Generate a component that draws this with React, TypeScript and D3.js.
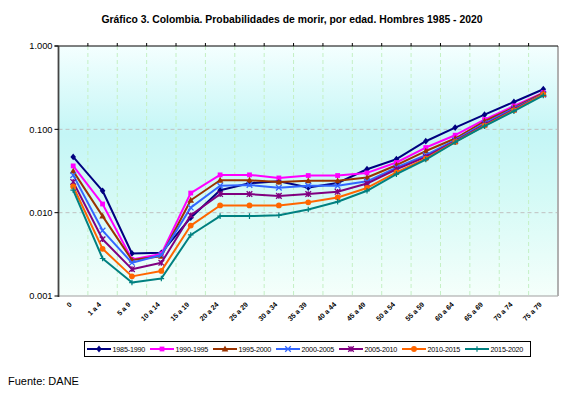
import { useEffect, useRef } from "react";
import * as d3 from "d3";

// Age groups (x categories)
const AGES = [
  "0", "1 a 4", "5 a 9", "10 a 14", "15 a 19", "20 a 24", "25 a 29", "30 a 34",
  "35 a 39", "40 a 44", "45 a 49", "50 a 54", "55 a 59", "60 a 64", "65 a 69",
  "70 a 74", "75 a 79",
];

const Y_TICKS = [0.001, 0.01, 0.1, 1];

// Probability of dying, per period
const P1985 = [0.0467, 0.0183, 0.00324, 0.0033, 0.0087, 0.0186, 0.0225, 0.0238, 0.0200, 0.0227, 0.0332, 0.0438, 0.072, 0.105, 0.150, 0.213, 0.303];
const P1990 = [0.0364, 0.0127, 0.00275, 0.0032, 0.0172, 0.0284, 0.0284, 0.0261, 0.0279, 0.0279, 0.0300, 0.0400, 0.0605, 0.085, 0.131, 0.191, 0.276];
const P1995 = [0.0315, 0.0091, 0.0027, 0.0030, 0.0141, 0.0245, 0.0245, 0.0233, 0.0241, 0.0241, 0.0264, 0.0371, 0.0549, 0.0776, 0.125, 0.183, 0.271];
const P2000 = [0.0282, 0.0061, 0.0025, 0.0031, 0.0115, 0.0210, 0.0215, 0.0199, 0.0210, 0.0210, 0.0238, 0.0348, 0.0490, 0.074, 0.118, 0.178, 0.265];
const P2005 = [0.0234, 0.0048, 0.0021, 0.0025, 0.0093, 0.0167, 0.0167, 0.0159, 0.0167, 0.0178, 0.0224, 0.0332, 0.0467, 0.072, 0.114, 0.173, 0.262];
const P2010 = [0.0206, 0.00368, 0.00172, 0.0020, 0.0070, 0.0122, 0.0122, 0.0122, 0.0133, 0.0152, 0.0198, 0.0304, 0.0446, 0.0706, 0.111, 0.169, 0.262];
const P2015 = [0.0186, 0.00282, 0.00145, 0.00162, 0.0054, 0.0091, 0.0091, 0.0093, 0.0109, 0.0135, 0.0183, 0.0290, 0.0434, 0.070, 0.109, 0.165, 0.255];

const SERIES = [
  { name: "1985-1990", values: P1985, color: "#000080", marker: "diamond" },
  { name: "1990-1995", values: P1990, color: "#ff00ff", marker: "square" },
  { name: "1995-2000", values: P1995, color: "#993300", marker: "triangle" },
  { name: "2000-2005", values: P2000, color: "#3366ff", marker: "x" },
  { name: "2005-2010", values: P2005, color: "#800080", marker: "star" },
  { name: "2010-2015", values: P2010, color: "#ff6600", marker: "circle" },
  { name: "2015-2020", values: P2015, color: "#008080", marker: "plus" },
];

const W = 584;
const H = 395;
const PLOT = { left: 58.5, right: 558, top: 46, bottom: 296 };
const FONT = "'Liberation Sans', Arial, sans-serif";

function drawMarker(
  g: d3.Selection<SVGGElement, unknown, null, undefined>,
  kind: string, x: number, y: number, color: string,
) {
  const s = 2.8;
  if (kind === "diamond") {
    g.append("path").attr("d", `M${x},${y - s - 0.6}L${x + s},${y}L${x},${y + s + 0.6}L${x - s},${y}Z`).attr("fill", color);
  } else if (kind === "square") {
    g.append("rect").attr("x", x - 2.4).attr("y", y - 2.4).attr("width", 4.8).attr("height", 4.8).attr("fill", color);
  } else if (kind === "triangle") {
    g.append("path").attr("d", `M${x},${y - 3.4}L${x + 3.3},${y + 2.4}L${x - 3.3},${y + 2.4}Z`).attr("fill", color);
  } else if (kind === "circle") {
    g.append("circle").attr("cx", x).attr("cy", y).attr("r", 2.9).attr("fill", color);
  } else if (kind === "x") {
    g.append("path").attr("d", `M${x - s},${y - s}L${x + s},${y + s}M${x - s},${y + s}L${x + s},${y - s}`)
      .attr("stroke", color).attr("stroke-width", 1.3);
  } else if (kind === "star") {
    g.append("path").attr("d", `M${x - s},${y - s}L${x + s},${y + s}M${x - s},${y + s}L${x + s},${y - s}M${x},${y - s}L${x},${y + s}`)
      .attr("stroke", color).attr("stroke-width", 1.3);
  } else if (kind === "plus") {
    g.append("path").attr("d", `M${x - s},${y}L${x + s},${y}M${x},${y - s}L${x},${y + s}`)
      .attr("stroke", color).attr("stroke-width", 1.2);
  }
}

export default function App() {
  const svgRef = useRef<SVGSVGElement>(null);

  useEffect(() => {
    const svg = d3.select(svgRef.current!);
    svg.selectAll("*").remove();

    const x = d3.scaleBand<string>().domain(AGES).range([PLOT.left, PLOT.right]);
    const y = d3.scaleLog().domain([0.001, 1]).range([PLOT.bottom, PLOT.top]);
    const cx = (a: string) => (x(a) ?? 0) + x.bandwidth() / 2;

    // background gradient
    const defs = svg.append("defs");
    const grad = defs.append("linearGradient").attr("id", "bg").attr("x1", 0).attr("y1", 0).attr("x2", 0).attr("y2", 1);
    grad.append("stop").attr("offset", "0%").attr("stop-color", "#f4ffff");
    grad.append("stop").attr("offset", "35%").attr("stop-color", "#c4f6f6");
    grad.append("stop").attr("offset", "60%").attr("stop-color", "#d4faf6");
    grad.append("stop").attr("offset", "100%").attr("stop-color", "#f5fffb");

    svg.append("rect").attr("width", W).attr("height", H).attr("fill", "#fff");

    // title
    svg.append("text")
      .attr("x", 292).attr("y", 23).attr("text-anchor", "middle")
      .attr("font-family", FONT).attr("font-size", "10.4px").attr("font-weight", "bold")
      .text("Gráfico 3. Colombia. Probabilidades de morir, por edad. Hombres 1985 - 2020");

    // plot area
    svg.append("rect")
      .attr("x", PLOT.left).attr("y", PLOT.top)
      .attr("width", PLOT.right - PLOT.left).attr("height", PLOT.bottom - PLOT.top)
      .attr("fill", "url(#bg)");

    // vertical grid (category boundaries)
    const bounds = AGES.slice(1).map((a) => x(a) ?? 0);
    svg.append("g").selectAll("line").data(bounds).join("line")
      .attr("x1", (d) => d).attr("x2", (d) => d)
      .attr("y1", PLOT.top).attr("y2", PLOT.bottom)
      .attr("stroke", "#c4f0c4").attr("stroke-width", 1).attr("stroke-dasharray", "4,3");

    // horizontal grid
    svg.append("g").selectAll("line").data([0.01, 0.1]).join("line")
      .attr("x1", PLOT.left).attr("x2", PLOT.right)
      .attr("y1", (d) => y(d)).attr("y2", (d) => y(d))
      .attr("stroke", "#c0c0c0").attr("stroke-width", 1).attr("stroke-dasharray", "4,3");

    // frame
    svg.append("line").attr("x1", PLOT.left).attr("x2", PLOT.right).attr("y1", PLOT.bottom).attr("y2", PLOT.bottom)
      .attr("stroke", "#a0a0a0").attr("stroke-width", 1.2);
    svg.append("line").attr("x1", PLOT.right).attr("x2", PLOT.right).attr("y1", PLOT.top).attr("y2", PLOT.bottom)
      .attr("stroke", "#b0b0b0").attr("stroke-width", 2);
    svg.append("line").attr("x1", PLOT.left - 4).attr("x2", PLOT.right).attr("y1", PLOT.top).attr("y2", PLOT.top)
      .attr("stroke", "#000").attr("stroke-width", 1);
    svg.append("g").selectAll("line").data(bounds).join("line")
      .attr("x1", (d) => d).attr("x2", (d) => d)
      .attr("y1", PLOT.top - 3).attr("y2", PLOT.top)
      .attr("stroke", "#000").attr("stroke-width", 1);
    svg.append("line").attr("x1", PLOT.left).attr("x2", PLOT.left).attr("y1", PLOT.top).attr("y2", PLOT.bottom + 1)
      .attr("stroke", "#444").attr("stroke-width", 1.8);

    // y axis ticks and labels
    const yt = svg.append("g");
    yt.selectAll("line").data(Y_TICKS).join("line")
      .attr("x1", PLOT.left - 4).attr("x2", PLOT.left)
      .attr("y1", (d) => y(d)).attr("y2", (d) => y(d))
      .attr("stroke", "#000");
    yt.selectAll("text").data(Y_TICKS).join("text")
      .attr("x", PLOT.left - 6).attr("y", (d) => y(d) + 3.3)
      .attr("text-anchor", "end").attr("font-family", FONT).attr("font-size", "9.3px")
      .text((d) => d3.format(".3f")(d));

    // x labels, rotated
    svg.append("g").selectAll("text").data(AGES).join("text")
      .attr("transform", (d) => `translate(${cx(d) - 1},${PLOT.bottom + 9}) rotate(-45)`)
      .attr("text-anchor", "end").attr("font-family", FONT).attr("font-size", "7px").attr("font-weight", "bold")
      .text((d) => d);

    // series
    const line = d3.line<number>().x((_, i) => cx(AGES[i])).y((v) => y(v));
    SERIES.forEach((s) => {
      const g = svg.append("g");
      g.append("path").attr("d", line(s.values) ?? "")
        .attr("fill", "none").attr("stroke", s.color).attr("stroke-width", 2).attr("stroke-linejoin", "round");
      s.values.forEach((v, i) => drawMarker(g, s.marker, cx(AGES[i]), y(v), s.color));
    });

    // legend
    const lg = svg.append("g");
    lg.append("rect").attr("x", 84.5).attr("y", 341.5).attr("width", 446).attr("height", 15)
      .attr("fill", "#fff").attr("stroke", "#000").attr("stroke-width", 1);
    const legendX = d3.scalePoint<string>().domain(SERIES.map((s) => s.name)).range([87, 465]);
    SERIES.forEach((s) => {
      const lx = legendX(s.name) ?? 0;
      const ly = 349;
      lg.append("line").attr("x1", lx).attr("x2", lx + 24).attr("y1", ly).attr("y2", ly)
        .attr("stroke", s.color).attr("stroke-width", 2);
      drawMarker(lg as any, s.marker, lx + 12, ly, s.color);
      lg.append("text").attr("x", lx + 25.5).attr("y", ly + 2.6)
        .attr("font-family", FONT).attr("font-size", "7.2px").attr("letter-spacing", "-0.2px")
        .text(s.name);
    });

    // source
    svg.append("text").attr("x", 8).attr("y", 385)
      .attr("font-family", FONT).attr("font-size", "11px")
      .text("Fuente: DANE");
  }, []);

  return (
    <svg
      ref={svgRef}
      width={W}
      height={H}
      style={{ position: "absolute", left: 0, top: 0 }}
    />
  );
}
